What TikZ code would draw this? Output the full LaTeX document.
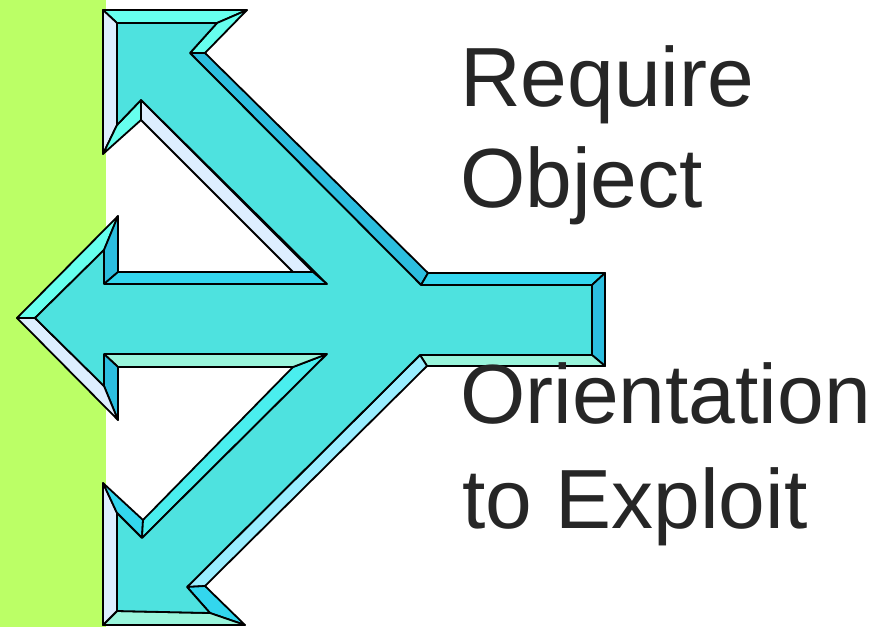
\documentclass[tikz,border=0pt]{standalone}
\usepackage{fontspec}
\setmainfont{Liberation Sans}
\usepackage{tikz}
\definecolor{stripgreen}{RGB}{187,255,102}
\definecolor{armcyan}{RGB}{78,226,223}
\definecolor{aquaface}{RGB}{102,255,238}
\definecolor{paleblue}{RGB}{221,238,255}
\definecolor{darkface}{RGB}{44,190,223}
\definecolor{midface}{RGB}{51,214,238}
\definecolor{mintface}{RGB}{153,245,220}
\definecolor{brightface}{RGB}{74,238,238}
\definecolor{skyface}{RGB}{153,238,255}
\definecolor{inkgray}{RGB}{38,38,38}

\begin{document}
\begin{tikzpicture}[
  x=1pt, y=-1pt,
  face/.style={draw=black, line width=1.8pt, line join=round},
  caption/.style={anchor=base west, inner sep=0pt, text=inkgray, font=\fontsize{84}{98}\selectfont}
]
\useasboundingbox (0,0) rectangle (888,627);
\fill[stripgreen] (0,0) rectangle (106,627);

\filldraw[face, fill=aquaface] (103,10) -- (247,10) -- (217,23) -- (117,23) -- cycle;
\filldraw[face, fill=paleblue] (103,10) -- (117,23) -- (117,125) -- (103,154) -- cycle;
\filldraw[face, fill=aquaface] (103,154) -- (117,125) -- (141,100) -- (141,120) -- cycle;
\filldraw[face, fill=paleblue] (141,120) -- (141,100) -- (313,272) -- (293,272) -- cycle;
\filldraw[face, fill=aquaface] (247,10) -- (205,53) -- (190,53) -- (217,23) -- cycle;
\filldraw[face, fill=darkface] (205,53) -- (428,273) -- (421,285) -- (190,53) -- cycle;
\filldraw[face, fill=midface] (428,273) -- (605,273) -- (592,285) -- (421,285) -- cycle;
\filldraw[face, fill=darkface] (605,273) -- (605,366) -- (592,355) -- (592,285) -- cycle;
\filldraw[face, fill=mintface] (605,366) -- (427,366) -- (420,355) -- (592,355) -- cycle;
\filldraw[face, fill=skyface] (427,366) -- (205,586) -- (187,587) -- (420,355) -- cycle;
\filldraw[face, fill=midface] (205,586) -- (245,625) -- (210,613) -- (187,587) -- cycle;
\filldraw[face, fill=mintface] (245,625) -- (103,625) -- (117,611) -- (210,613) -- cycle;
\filldraw[face, fill=paleblue] (103,625) -- (103,483) -- (117,513) -- (117,611) -- cycle;
\filldraw[face, fill=midface] (103,483) -- (143,520) -- (142,538) -- (117,513) -- cycle;
\filldraw[face, fill=brightface] (143,520) -- (293,367) -- (327,354) -- (142,538) -- cycle;
\filldraw[face, fill=mintface] (293,367) -- (118,367) -- (104,354) -- (327,354) -- cycle;
\filldraw[face, fill=darkface] (118,367) -- (118,420) -- (104,386) -- (104,354) -- cycle;
\filldraw[face, fill=paleblue] (118,420) -- (17,318) -- (35,318) -- (104,386) -- cycle;
\filldraw[face, fill=aquaface] (17,318) -- (118,216) -- (104,250) -- (35,318) -- cycle;
\filldraw[face, fill=darkface] (118,216) -- (118,272) -- (104,284) -- (104,250) -- cycle;
\filldraw[face, fill=midface] (118,272) -- (313,272) -- (327,284) -- (104,284) -- cycle;

\filldraw[face, fill=armcyan] (117,23) -- (217,23) -- (190,53) -- (421,285) -- (592,285)
  -- (592,355) -- (420,355) -- (187,587) -- (210,613) -- (117,611) -- (117,513)
  -- (142,538) -- (327,354) -- (104,354) -- (104,386) -- (35,318) -- (104,250)
  -- (104,284) -- (327,284) -- (141,100) -- (117,125) -- cycle;

\node[caption] (require) at (460,106) {Require};
\node[caption] (object) at (460,207) {Object};
\node[caption] (orient) at (460,423) {Orientation};
\node[caption] (exploit) at (462,528) {to Exploit};
\end{tikzpicture}
\end{document}
